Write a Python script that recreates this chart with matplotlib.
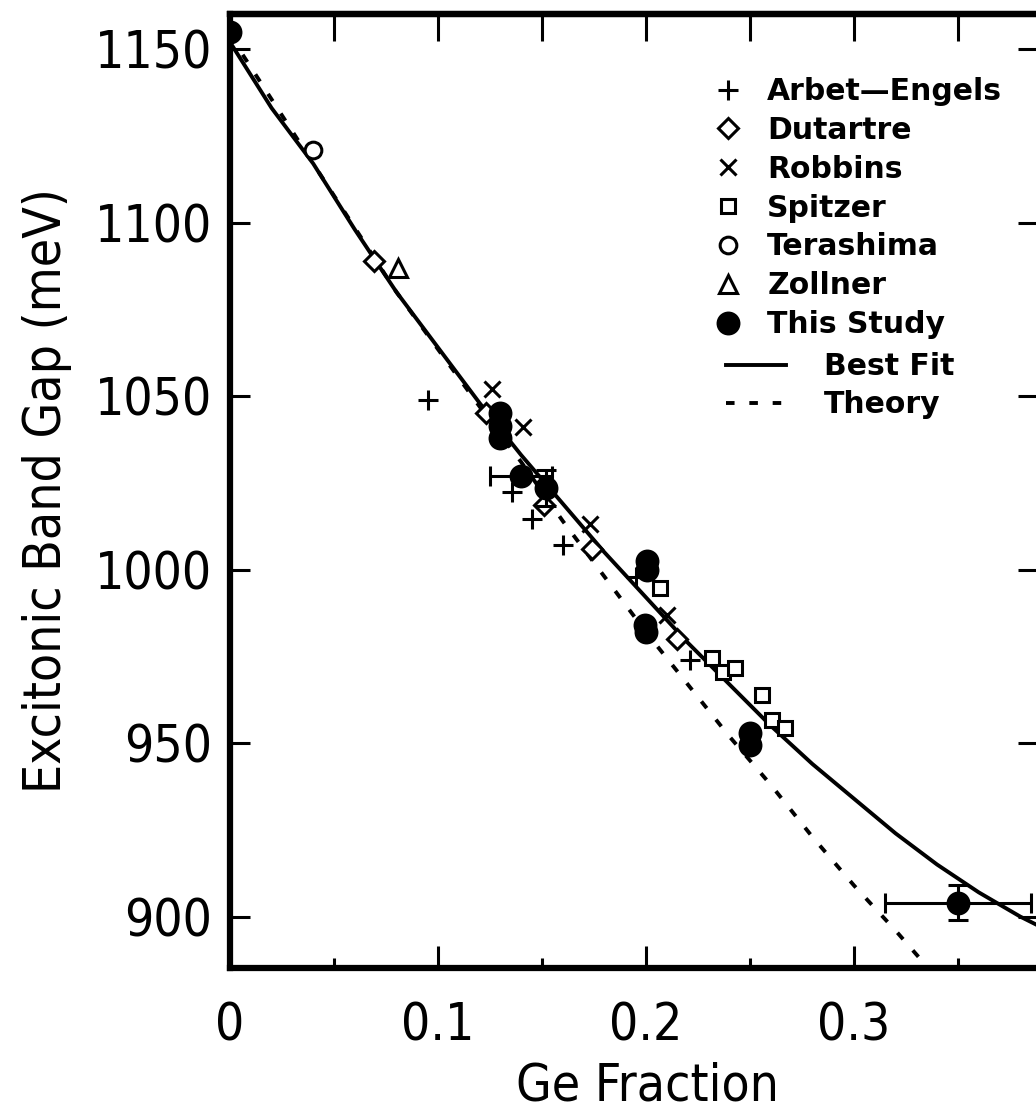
import matplotlib.pyplot as plt
from matplotlib.ticker import MultipleLocator

plt.rcParams['font.family'] = ['DejaVu Sans']
plt.rcParams['font.stretch'] = 'condensed'

# data (Ge fraction, excitonic gap in meV)
arbet_x = [0.095, 0.1355, 0.145, 0.160, 0.195, 0.221]
arbet_y = [1049, 1022.5, 1014.5, 1007, 998, 974]
dutartre_x = [0.069, 0.123, 0.151, 0.174, 0.215]
dutartre_y = [1089, 1045, 1018.5, 1006, 980]
robbins_x = [0.126, 0.141, 0.173, 0.210]
robbins_y = [1052, 1041, 1013, 987]
spitzer_x = [0.2067, 0.2317, 0.237, 0.243, 0.256, 0.2606, 0.267]
spitzer_y = [994.7, 974.5, 970.5, 971.6, 963.8, 956.8, 954.3]
terashima_x = [0.040]
terashima_y = [1121]
zollner_x = [0.081]
zollner_y = [1087]
study_x = [0.0, 0.130, 0.130, 0.130, 0.140, 0.152, 0.2005, 0.2005, 0.1995, 0.200, 0.250, 0.250, 0.350]
study_y = [1155, 1045, 1041.5, 1038, 1027, 1023.5, 1002.5, 1000, 984, 982, 953, 949.5, 904]

# error bars on some of "This Study" points
err_x = [0.140, 0.152, 0.350]
err_y = [1027, 1023.5, 904]
err_dx = [0.0148, 0, 0.035]
err_dy = [0, 5.3, 5]

fit_x = [0, 0.02, 0.04, 0.06, 0.08, 0.10, 0.12, 0.14, 0.16, 0.18, 0.20,
         0.22, 0.24, 0.26, 0.28, 0.30, 0.32, 0.34, 0.36, 0.38, 0.39]
fit_y = [1152, 1133, 1117, 1098, 1080, 1064, 1048, 1033, 1019, 1005, 992,
         979, 967, 955, 944, 934, 924, 915, 907, 900, 897]
theory_x = [0, 0.04, 0.08, 0.12, 0.14, 0.16, 0.18, 0.20, 0.22, 0.24,
            0.26, 0.28, 0.30, 0.32, 0.336]
theory_y = [1154, 1117, 1080, 1047, 1031, 1014, 998, 982, 967, 952,
            938, 923, 909, 896, 885]

fig = plt.figure(figsize=(10.36, 11.13), dpi=100)
ax = fig.add_axes([230 / 1036, 145 / 1113, 808 / 1036, 954 / 1113])

l_fit, = ax.plot(fit_x, fit_y, color='k', lw=2.8, label='Best Fit')
l_th, = ax.plot(theory_x, theory_y, color='k', lw=2.8, ls=(0, (2.2, 3.8)), label='Theory')

mk = dict(ls='none', color='k', mew=2.2)
h1, = ax.plot(arbet_x, arbet_y, marker='+', ms=14, label='Arbet\u2014Engels', **mk)
h2, = ax.plot(dutartre_x, dutartre_y, marker='D', ms=10, mfc='white', label='Dutartre', **mk)
h3, = ax.plot(robbins_x, robbins_y, marker='x', ms=12, label='Robbins', **mk)
h4, = ax.plot(spitzer_x, spitzer_y, marker='s', ms=10, mfc='white', label='Spitzer', **mk)
h5, = ax.plot(terashima_x, terashima_y, marker='o', ms=12, mfc='white', label='Terashima', **mk)
h6, = ax.plot(zollner_x, zollner_y, marker='^', ms=13, mfc='white', label='Zollner', **mk)
h7, = ax.plot(study_x, study_y, marker='o', ms=15, label='This Study', **mk)

for x, y, dx, dy in zip(err_x, err_y, err_dx, err_dy):
    ax.errorbar(x, y, xerr=dx if dx else None, yerr=dy if dy else None, fmt='none',
                ecolor='k', elinewidth=2.2, capsize=7, capthick=2.2)

ax.set_xlim(0, 0.3885)
ax.set_ylim(885.2, 1160.1)
ax.set_xticks([0, 0.1, 0.2, 0.3], ['0', '0.1', '0.2', '0.3'])
ax.xaxis.set_minor_locator(MultipleLocator(0.05))
ax.set_yticks([900, 950, 1000, 1050, 1100, 1150])

for s in ax.spines.values():
    s.set_linewidth(4.5)
ax.tick_params(axis='y', which='major', direction='in', length=14.5, width=2.2,
               left=True, right=True, labelsize=37, pad=12.7)
ax.tick_params(axis='x', which='major', direction='in', length=16, width=2.2,
               top=False, labelsize=37, pad=24)
ax.tick_params(axis='x', which='minor', direction='in', length=7, width=2.2, top=False)

top = ax.secondary_xaxis('top')
top.xaxis.set_major_locator(MultipleLocator(0.05))
top.tick_params(direction='in', length=19.5, width=2.2, labeltop=False)
top.spines['top'].set_linewidth(4.5)

ax.set_xlabel('Ge Fraction', fontsize=37)
ax.set_ylabel('Excitonic Band Gap (meV)', fontsize=37)
ax.xaxis.set_label_coords(0.517, -0.0985)
ax.yaxis.set_label_coords(-0.1955, 0.5)

lfont = {'family': 'DejaVu Sans', 'weight': 'bold', 'size': 21.5, 'stretch': 'normal'}
leg1 = ax.legend(handles=[h1, h2, h3, h4, h5, h6, h7], loc='upper left',
                 bbox_to_anchor=(0.6886, 0.9308), bbox_transform=fig.transFigure,
                 frameon=False, prop=lfont, handlelength=1.0, handletextpad=0.8,
                 labelspacing=0.33, borderpad=0, borderaxespad=0)
ax.add_artist(leg1)
ax.legend(handles=[l_fit, l_th], loc='upper left',
          bbox_to_anchor=(0.7008, 0.6837), bbox_transform=fig.transFigure,
          frameon=False, prop=lfont, handlelength=2.0, handletextpad=1.29,
          labelspacing=0.30, borderpad=0, borderaxespad=0)

fig.savefig('out.png', dpi=100)
